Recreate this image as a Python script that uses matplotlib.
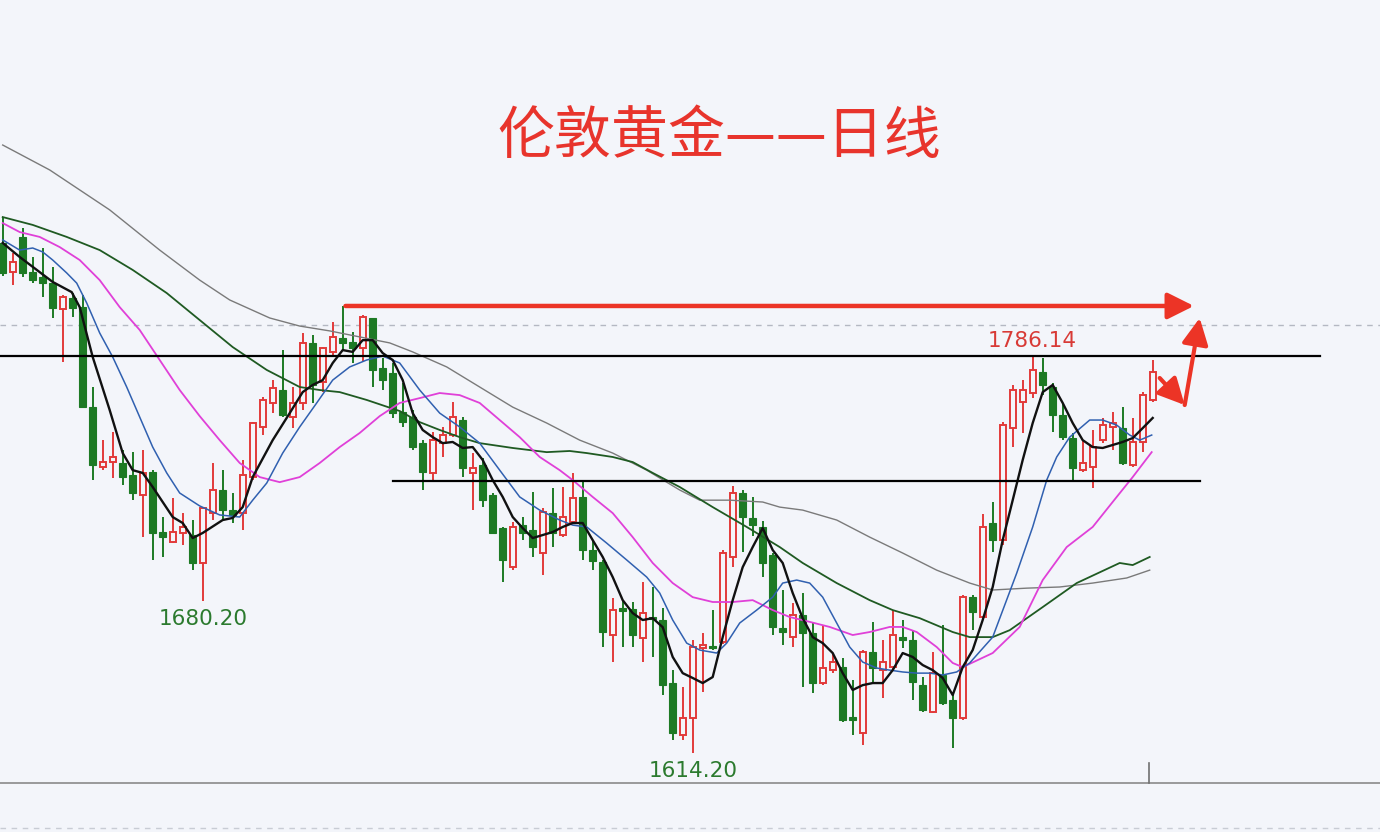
import matplotlib
matplotlib.use("Agg")
import matplotlib.pyplot as plt

plt.rcParams['font.family'] = ['Noto Sans CJK SC', 'DejaVu Sans']

# daily OHLC (London gold)
opens = [1835.1, 1822.5, 1837.7, 1822.5, 1820.3, 1817.7, 1806.5, 1811.2, 1807.3, 1764.0,
         1738.0, 1740.2, 1739.8, 1734.6, 1725.9, 1735.9, 1709.9, 1705.6, 1709.5, 1708.6,
         1696.5, 1718.1, 1728.1, 1719.4, 1718.1, 1733.7, 1755.4, 1765.8, 1771.4, 1759.7,
         1765.8, 1791.7, 1774.9, 1787.8, 1793.9, 1792.2, 1789.6, 1802.6, 1781.0, 1778.8,
         1761.9, 1759.7, 1748.4, 1735.5, 1748.4, 1751.9, 1758.4, 1735.5, 1738.9, 1725.9,
         1711.6, 1694.7, 1713.0, 1710.8, 1700.8, 1718.1, 1708.6, 1714.2, 1725.0, 1702.1,
         1696.9, 1665.3, 1677.0, 1676.5, 1664.0, 1673.1, 1671.8, 1644.5, 1622.0, 1629.3,
         1659.7, 1660.5, 1662.2, 1699.1, 1726.8, 1716.0, 1712.1, 1699.9, 1668.3, 1664.4,
         1673.9, 1666.2, 1644.5, 1650.1, 1651.4, 1629.8, 1622.8, 1657.9, 1650.1, 1651.4,
         1664.4, 1663.1, 1643.6, 1631.9, 1648.0, 1637.1, 1629.3, 1681.7, 1673.1, 1713.8,
         1706.4, 1754.9, 1766.2, 1770.1, 1779.2, 1772.7, 1760.6, 1750.6, 1736.7, 1738.1,
         1749.7, 1755.4, 1755.0, 1738.9, 1748.9, 1767.1]
highs = [1846.3, 1830.7, 1841.6, 1829.0, 1832.9, 1824.7, 1812.5, 1813.4, 1812.5, 1772.7,
         1749.7, 1753.2, 1745.4, 1744.5, 1745.4, 1736.7, 1716.4, 1724.6, 1718.1, 1715.1,
         1720.7, 1739.8, 1736.7, 1727.0, 1741.1, 1757.5, 1768.4, 1775.7, 1788.7, 1772.7,
         1796.1, 1795.2, 1790.0, 1800.8, 1807.8, 1796.5, 1803.9, 1802.6, 1785.3, 1783.1,
         1774.4, 1762.7, 1749.7, 1753.2, 1755.4, 1766.2, 1759.7, 1744.1, 1742.0, 1727.0,
         1712.0, 1714.2, 1716.4, 1727.2, 1720.3, 1728.9, 1729.4, 1735.5, 1732.4, 1706.4,
         1697.8, 1681.3, 1680.4, 1679.6, 1688.2, 1686.1, 1677.0, 1650.1, 1642.8, 1663.1,
         1666.1, 1676.1, 1702.1, 1729.8, 1728.1, 1725.0, 1714.7, 1700.8, 1684.8, 1679.1,
         1683.5, 1670.9, 1669.6, 1657.5, 1655.3, 1645.8, 1658.8, 1670.9, 1663.1, 1676.1,
         1671.8, 1667.4, 1647.1, 1657.9, 1669.6, 1640.2, 1682.5, 1682.6, 1717.7, 1722.9,
         1757.5, 1773.6, 1775.7, 1786.14, 1785.3, 1774.4, 1765.8, 1752.8, 1749.7, 1754.1,
         1759.3, 1761.9, 1764.0, 1759.3, 1770.5, 1784.4]
lows = [1820.8, 1816.9, 1820.3, 1817.7, 1811.7, 1802.6, 1783.5, 1803.0, 1763.5, 1732.4,
        1736.7, 1733.3, 1730.3, 1723.7, 1707.7, 1697.8, 1699.1, 1705.1, 1704.3, 1693.4,
        1680.2, 1715.1, 1715.1, 1713.8, 1710.8, 1732.4, 1751.9, 1761.4, 1759.7, 1755.0,
        1762.7, 1765.8, 1770.5, 1786.5, 1788.7, 1783.1, 1783.5, 1772.7, 1771.4, 1759.3,
        1755.4, 1745.4, 1728.1, 1731.5, 1742.4, 1751.0, 1733.7, 1719.4, 1720.7, 1709.0,
        1688.2, 1693.4, 1706.4, 1699.1, 1691.3, 1703.4, 1707.7, 1713.8, 1697.8, 1693.4,
        1660.1, 1653.6, 1660.1, 1660.1, 1653.6, 1655.8, 1639.3, 1619.8, 1619.8, 1614.2,
        1640.6, 1658.8, 1661.5, 1694.7, 1701.2, 1708.2, 1690.4, 1665.3, 1661.0, 1660.1,
        1642.8, 1640.2, 1643.6, 1648.8, 1627.6, 1622.0, 1617.6, 1644.5, 1638.0, 1650.1,
        1659.7, 1637.1, 1632.0, 1631.5, 1635.0, 1616.3, 1628.5, 1667.4, 1671.8, 1701.2,
        1704.3, 1746.7, 1752.8, 1767.9, 1769.2, 1753.2, 1749.7, 1732.4, 1735.9, 1728.9,
        1748.4, 1745.4, 1738.9, 1738.1, 1744.5, 1766.2]
closes = [1822.1, 1826.8, 1822.1, 1819.0, 1817.7, 1806.9, 1811.7, 1806.9, 1764.0, 1738.9,
          1740.2, 1742.4, 1733.7, 1726.8, 1735.5, 1709.5, 1707.7, 1709.9, 1712.1, 1696.5,
          1720.3, 1728.1, 1719.4, 1717.3, 1734.6, 1757.1, 1767.1, 1772.3, 1760.6, 1765.8,
          1791.7, 1773.6, 1789.6, 1794.3, 1791.7, 1789.6, 1803.0, 1780.1, 1775.7, 1761.4,
          1757.5, 1746.7, 1735.9, 1749.7, 1751.9, 1759.7, 1737.6, 1737.6, 1723.7, 1709.5,
          1697.8, 1712.1, 1709.5, 1703.4, 1718.6, 1709.5, 1716.4, 1724.6, 1702.1, 1697.3,
          1666.6, 1676.1, 1675.7, 1665.3, 1674.8, 1672.2, 1643.6, 1622.8, 1629.3, 1660.1,
          1661.0, 1659.7, 1700.8, 1726.8, 1716.4, 1713.0, 1696.5, 1668.7, 1666.6, 1673.9,
          1666.2, 1644.5, 1651.0, 1653.6, 1628.5, 1628.5, 1657.9, 1651.0, 1653.6, 1665.3,
          1663.1, 1645.0, 1632.8, 1648.8, 1635.8, 1629.3, 1681.7, 1675.2, 1712.1, 1706.4,
          1756.2, 1771.4, 1771.4, 1780.1, 1773.6, 1760.6, 1751.0, 1737.6, 1739.8, 1746.7,
          1756.2, 1757.1, 1739.8, 1748.9, 1769.2, 1779.2]

# moving averages, read as (bar position, price) vertices
ma5_x = [0, 1.7, 5, 6.9, 7.7, 9, 10.7, 12, 13, 14, 15, 17, 18, 19, 20, 22, 23, 24, 25, 27,
         28.7, 30, 31, 32, 33, 34, 35, 36, 37, 38, 39, 40, 41, 42, 43, 44, 45, 46, 47, 48,
         49, 50, 51, 52, 53, 54, 55, 56, 57, 58, 59, 60, 61, 62, 63, 64, 65, 66, 67, 68,
         69, 70, 71, 72, 73, 74, 75, 76, 77, 78, 79, 80, 81, 82, 83, 84, 85, 86, 87, 88,
         89, 90, 91, 92, 93, 94, 95, 96, 97, 98, 99, 100, 101, 102, 103, 104, 105, 106, 107, 108,
         109, 110, 111, 112, 113, 114, 115]
ma5_y = [1835.1, 1829.0, 1818.2, 1813.8, 1807.3, 1785.7, 1762.7, 1744.1, 1736.7, 1735.5,
         1729.4, 1716.4, 1713.8, 1707.3, 1709.5, 1715.1, 1716.0, 1720.7, 1733.7, 1749.7,
         1761.4, 1770.5, 1773.6, 1775.7, 1783.1, 1788.7, 1787.9, 1793.0, 1793.0, 1787.4,
         1784.4, 1775.7, 1761.4, 1754.1, 1751.0, 1748.4, 1748.9, 1746.3, 1746.7, 1741.1,
         1732.4, 1725.1, 1716.4, 1711.6, 1707.3, 1708.6, 1709.9, 1712.1, 1713.8, 1713.8,
         1706.4, 1699.1, 1690.4, 1680.4, 1674.8, 1671.8, 1672.6, 1668.7, 1655.8, 1648.8,
         1646.7, 1644.5, 1647.1, 1664.4, 1680.4, 1694.7, 1703.4, 1711.6, 1702.1, 1696.5,
         1683.5, 1672.6, 1664.4, 1661.8, 1657.5, 1648.8, 1641.5, 1643.6, 1644.5, 1644.5,
         1650.1, 1657.5, 1655.8, 1652.3, 1650.1, 1646.7, 1639.3, 1651.4, 1658.8, 1671.8,
         1686.1, 1706.4, 1723.7, 1741.1, 1757.1, 1770.5, 1773.6, 1765.8, 1757.1, 1749.7,
         1746.7, 1746.3, 1747.6, 1748.9, 1750.6, 1754.9, 1759.3]

ma10_x = [0, 1.7, 3, 4, 5, 6.4, 7.4, 8.4, 9.7, 11, 12.4, 13.7, 15, 16.4, 17.7, 19.7, 21.7,
          23.7, 25, 26.4, 28, 29.7, 31.4, 33, 34.7, 36.4, 38, 39.7, 41.7, 43.7, 45.7, 47.7,
          49.7, 51.7, 53.7, 55.7, 57, 58.4, 60.4, 62.4, 64.4, 65.7, 67, 68.4, 69.7, 71.4,
          72.4, 73.7, 75.4, 77, 78, 79.4, 80.7, 82, 83.4, 84.7, 86, 87.4, 88.7, 90, 91.4,
          92.7, 94, 95.4, 96.7, 99, 101.4, 103, 104.4, 105.4, 106.7, 108.7, 110, 111.4,
          112.7, 113.7, 114.9]
ma10_y = [1836.4, 1832.0, 1832.9, 1831.2, 1827.7, 1822.1, 1817.7, 1809.1, 1796.1, 1785.7,
          1772.7, 1759.7, 1746.7, 1735.5, 1726.8, 1721.2, 1717.3, 1716.4, 1723.7, 1731.1,
          1744.1, 1755.4, 1765.8, 1775.7, 1781.4, 1784.4, 1786.1, 1783.1, 1771.4, 1761.4,
          1755.4, 1748.4, 1736.7, 1725.1, 1719.4, 1715.1, 1712.9, 1712.1, 1705.1, 1697.8,
          1690.4, 1683.5, 1671.8, 1661.8, 1658.8, 1657.5, 1661.8, 1670.5, 1676.1, 1681.7,
          1687.8, 1689.1, 1687.8, 1681.7, 1670.5, 1660.1, 1653.6, 1651.0, 1650.1, 1649.3,
          1648.8, 1648.8, 1648.0, 1649.3, 1653.2, 1664.4, 1692.1, 1712.1, 1732.4, 1742.4,
          1751.0, 1758.4, 1758.4, 1756.2, 1751.9, 1749.7, 1751.9]

ma20_x = [0, 1.7, 3.7, 5.7, 7.7, 9.7, 11.7, 13.7, 15.7, 17.7, 19.7, 21.7, 23.7, 25.7, 27.7,
          29.7, 31.7, 33.7, 35.7, 37.7, 39.7, 41.7, 43.7, 45.7, 47.7, 49.7, 51.7, 53.7, 55.7,
          57, 59, 61, 63, 65, 67, 69, 71, 73, 75, 77, 78.7, 80.7, 82.7, 85, 86.7, 88.7, 90,
          91.4, 93.4, 95, 96, 99, 101.7, 104, 106.4, 109, 111.4, 113, 114.9]
ma20_y = [1843.7, 1839.8, 1837.7, 1833.3, 1827.7, 1819.0, 1807.3, 1797.4, 1784.4, 1771.4,
          1760.1, 1749.7, 1739.8, 1733.7, 1731.5, 1733.7, 1739.8, 1746.7, 1752.8, 1760.1,
          1765.8, 1767.9, 1770.1, 1769.2, 1765.8, 1758.4, 1751.0, 1742.4, 1736.7, 1732.4,
          1725.1, 1718.1, 1707.7, 1696.5, 1687.8, 1681.7, 1679.6, 1679.6, 1680.4, 1676.1,
          1673.1, 1671.0, 1668.8, 1665.3, 1666.6, 1668.8, 1668.8, 1666.6, 1660.1, 1653.2,
          1651.4, 1657.5, 1668.8, 1689.1, 1703.4, 1712.1, 1725.1, 1733.7, 1744.5]

ma60_x = [0, 3, 6.4, 9.7, 13, 16.4, 19.7, 23, 26.4, 29.7, 31.7, 33.7, 36.4, 39.7, 41.7, 43.7,
          45.7, 47.7, 51, 54.4, 56.7, 58.4, 61, 63, 65, 67.7, 71, 74.4, 77.7, 80, 83.4, 86.7,
          89, 91.7, 95, 96.7, 99, 100.7, 104, 107.4, 111.7, 113, 114.7]
ma60_y = [1846.3, 1842.9, 1837.7, 1832.0, 1823.4, 1813.4, 1801.7, 1790.0, 1780.1, 1772.7,
          1771.4, 1770.5, 1767.1, 1762.3, 1757.5, 1754.1, 1751.0, 1748.4, 1746.3, 1744.5,
          1745.0, 1744.1, 1742.4, 1740.2, 1735.5, 1729.4, 1720.7, 1712.1, 1703.4, 1696.5,
          1687.8, 1680.4, 1676.1, 1672.6, 1666.6, 1664.4, 1664.4, 1667.4, 1677.4, 1687.8,
          1696.5, 1695.6, 1699.1]

ma120_x = [0, 4.7, 10.7, 15.7, 19.7, 22.7, 26.7, 29.7, 32.7, 38.7, 41, 44.4, 47.7, 51, 54.4,
           57.7, 61, 64.4, 67.7, 69.7, 72.7, 76, 77.7, 80, 83.4, 86.7, 90, 93.4, 96.7, 99,
           102.4, 105.7, 109, 112.4, 114.7]
ma120_y = [1877.5, 1866.7, 1849.4, 1832.0, 1819.0, 1810.4, 1802.6, 1799.1, 1797.0, 1791.8,
           1787.9, 1781.4, 1772.7, 1764.0, 1757.1, 1749.7, 1744.1, 1736.7, 1728.1, 1723.7,
           1723.7, 1722.9, 1720.7, 1719.4, 1715.1, 1707.7, 1700.8, 1693.4, 1687.8, 1684.8,
           1685.6, 1686.1, 1687.8, 1690.0, 1693.4]

resistance = 1786.14
support = 1732.0
prev_line = 1799.5
top_bar = 34          # bar whose high starts the red target arrow
target_end = 119.4
forecast_x = [115.7, 118.2, 119.7]
forecast_y = [1776.6, 1764.9, 1802.6]
low1_bar, low2_bar, high_bar = 20, 69, 103

bg = '#f3f5fa'
up_c = '#e23a3a'
dn_c = '#1d7a24'
arrow_c = '#ec3426'

fig = plt.figure(figsize=(13.8, 8.32), dpi=100, facecolor=bg)
ax = fig.add_axes([0, 0, 1, 1])
ax.set_facecolor(bg)
ax.set_xlim(-0.27, 137.73)
ax.set_ylim(1580.0, 1940.3)
ax.axis('off')

# candles
for i in range(len(opens)):
    o, h, l, c = opens[i], highs[i], lows[i], closes[i]
    col = up_c if c >= o else dn_c
    ax.vlines(i, l, h, color=col, lw=1.4, zorder=2)
    bot = min(o, c)
    ht = max(abs(c - o), 0.8)
    if c >= o:
        ax.bar(i, ht, bottom=bot, width=0.62, facecolor=bg, edgecolor=col, lw=1.4, zorder=3)
    else:
        ax.bar(i, ht, bottom=bot, width=0.68, facecolor=col, edgecolor=col, lw=0.8, zorder=3)

# moving averages
ax.plot(ma120_x, ma120_y, color='#7a7a7a', lw=1.0, zorder=4)
ax.plot(ma60_x, ma60_y, color='#1f5a22', lw=1.3, zorder=4)
ax.plot(ma20_x, ma20_y, color='#e040d8', lw=1.3, zorder=4)
ax.plot(ma10_x, ma10_y, color='#3060b0', lw=1.1, zorder=5)
ax.plot(ma5_x, ma5_y, color='#111111', lw=1.7, zorder=6)

# support / resistance
ax.plot([-0.27, 131.7], [resistance, resistance], color='black', lw=1.6, zorder=7)
ax.plot([39.0, 119.7], [support, support], color='black', lw=1.6, zorder=7)
ax.axhline(prev_line, color='#b4b8c2', lw=1.0, ls=(0, (4, 4)), zorder=1)

# bottom axis
ax.axhline(1601.2, color='#8a8a8a', lw=1.2, zorder=1)
ax.plot([114.6, 114.6], [1601.2, 1609.8], color='#707070', lw=1.2)
ax.axhline(1581.7, color='#c8ccd4', lw=1.0, ls=(0, (4, 4)))

# red arrows
ax.annotate('', xy=(target_end, highs[top_bar]), xytext=(top_bar, highs[top_bar]),
            arrowprops=dict(arrowstyle='-|>,head_length=0.8,head_width=0.4',
                            color=arrow_c, lw=3.2, mutation_scale=20), zorder=8)
for k in range(len(forecast_x) - 1):
    ax.annotate('', xy=(forecast_x[k + 1], forecast_y[k + 1]),
                xytext=(forecast_x[k], forecast_y[k]),
                arrowprops=dict(arrowstyle='-|>,head_length=0.8,head_width=0.4',
                                color=arrow_c, lw=3.0, mutation_scale=20,
                                shrinkA=0, shrinkB=0), zorder=8)

# price labels
ax.annotate(f'{lows[low1_bar]:.2f}', xy=(low1_bar, lows[low1_bar]), xytext=(0, -18),
            textcoords='offset pixels', ha='center', va='center', fontsize=15.5,
            color='#2b7a2e', family='DejaVu Sans')
ax.annotate(f'{lows[low2_bar]:.2f}', xy=(low2_bar, lows[low2_bar]), xytext=(0, -18),
            textcoords='offset pixels', ha='center', va='center', fontsize=15.5,
            color='#2b7a2e', family='DejaVu Sans')
ax.annotate(f'{highs[high_bar]:.2f}', xy=(high_bar, highs[high_bar]), xytext=(0, 15),
            textcoords='offset pixels', ha='center', va='center', fontsize=15.5,
            color='#d83a36', family='DejaVu Sans')

fig.text(719 / 1380, 1 - 137 / 832, '伦敦黄金——日线', ha='center', va='center',
         fontsize=41, color='#e8342c')

fig.savefig('out.png', dpi=100, facecolor=bg)
